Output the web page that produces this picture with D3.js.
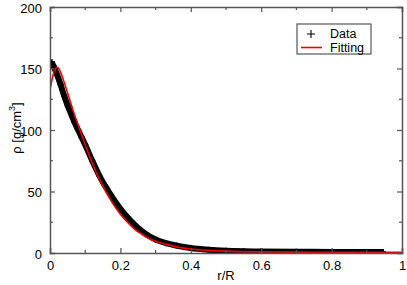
<!DOCTYPE html>
<html lang="en">
  <head>
    <meta charset="UTF-8" />
    <title>Density profile</title>
    <style>
      body {
        margin: 0;
        padding: 0;
        background-color: #fff;
        font-family: "Liberation Sans", Arial, sans-serif;
      }
      text {
        fill: #000;
      }
    </style>
  </head>
  <body>
    <svg id="chart"></svg>

    <script src="https://d3js.org/d3.v7.min.js"></script>
    <script>
      // measured density (black "+" markers)
      const dataR = [0.005, 0.01, 0.02, 0.03, 0.04, 0.05, 0.06, 0.07, 0.08, 0.09, 0.1,
        0.12, 0.14, 0.16, 0.18, 0.2, 0.22, 0.24, 0.26, 0.28, 0.3, 0.33, 0.36, 0.4,
        0.45, 0.5, 0.55, 0.6, 0.7, 0.8, 0.9, 0.946];
      const dataRho = [155, 152, 145, 137, 128, 120, 113, 106, 100, 94, 88,
        75, 63, 53, 44, 36, 29, 23, 18, 14, 11, 8, 6, 4,
        2.6, 1.8, 1.4, 1.2, 1.0, 0.9, 0.9, 0.9];

      // fitted curve (red line)
      const fitR = [0, 0.005, 0.01, 0.015, 0.02, 0.025, 0.03, 0.04, 0.05, 0.06, 0.07,
        0.08, 0.09, 0.1, 0.12, 0.14, 0.16, 0.18, 0.2, 0.22, 0.24, 0.26, 0.28, 0.3,
        0.33, 0.36, 0.4, 0.45, 0.5, 0.6, 0.7, 0.8, 1.0];
      const fitRho = [133, 140, 146, 149.5, 151, 150, 147, 139, 130, 121, 112,
        104, 96, 88, 73, 60, 49, 39.5, 31.5, 25, 19.5, 15.5, 12, 9.5,
        7, 5, 3.2, 2.1, 1.5, 0.9, 0.7, 0.6, 0.5];

      const xTicks = [0, 0.2, 0.4, 0.6, 0.8, 1];
      const yTicks = [0, 50, 100, 150, 200];
      const xMinor = [0.1, 0.3, 0.5, 0.7, 0.9];
      const yMinor = [25, 75, 125, 175];

      const width = 407;
      const height = 285;
      const margin = { top: 7, right: 5, bottom: 32, left: 50 };
      const font = "'Liberation Sans', Arial, sans-serif";

      const svg = d3.select("#chart").attr("width", width).attr("height", height);

      const x = d3.scaleLinear().domain([0, 1]).range([margin.left, width - margin.right]);
      const y = d3.scaleLinear().domain([0, 200]).range([height - margin.bottom, margin.top]);

      const axisColor = "#555";

      svg.append("clipPath").attr("id", "clip")
        .append("rect")
        .attr("x", x(0)).attr("y", y(200))
        .attr("width", x(1) - x(0)).attr("height", y(0) - y(200));

      const plot = svg.append("g").attr("clip-path", "url(#clip)");

      const data = dataR.map((r, i) => [r, dataRho[i]]);
      const fit = fitR.map((r, i) => [r, fitRho[i]]);

      const line = d3.line().x((d) => x(d[0])).y((d) => y(d[1])).curve(d3.curveMonotoneX);

      // data band (dense "+" markers)
      plot.append("path")
        .datum(data)
        .attr("d", line)
        .attr("fill", "none")
        .attr("stroke", "#000")
        .attr("stroke-width", 6);

      plot.selectAll(".plus")
        .data(data)
        .enter()
        .append("path")
        .attr("class", "plus")
        .attr("d", d3.symbol(d3.symbolCross, 20))
        .attr("transform", (d) => `translate(${x(d[0])},${y(d[1])})`)
        .attr("fill", "#000");

      // fit
      plot.append("path")
        .datum(fit)
        .attr("d", line)
        .attr("fill", "none")
        .attr("stroke", "#e00")
        .attr("stroke-width", 1.6);

      // axes: inward ticks on all four sides
      const gx = svg.append("g").attr("transform", `translate(0,${y(0)})`)
        .call(d3.axisBottom(x).tickValues(xTicks).tickSize(-5).tickPadding(8).tickFormat(d3.format("")));
      const gy = svg.append("g").attr("transform", `translate(${x(0)},0)`)
        .call(d3.axisLeft(y).tickValues(yTicks).tickSize(-5).tickPadding(8));
      const gxt = svg.append("g").attr("transform", `translate(0,${y(200)})`)
        .call(d3.axisTop(x).tickValues(xTicks).tickSize(-5).tickFormat(""));
      const gyr = svg.append("g").attr("transform", `translate(${x(1)},0)`)
        .call(d3.axisRight(y).tickValues(yTicks).tickSize(-5).tickFormat(""));

      // minor ticks
      gx.selectAll(".minor").data(xMinor).enter().append("line")
        .attr("x1", (d) => x(d)).attr("x2", (d) => x(d)).attr("y1", 0).attr("y2", -3);
      gxt.selectAll(".minor").data(xMinor).enter().append("line")
        .attr("x1", (d) => x(d)).attr("x2", (d) => x(d)).attr("y1", 0).attr("y2", 3);
      gy.selectAll(".minor").data(yMinor).enter().append("line")
        .attr("y1", (d) => y(d)).attr("y2", (d) => y(d)).attr("x1", 0).attr("x2", 3);
      gyr.selectAll(".minor").data(yMinor).enter().append("line")
        .attr("y1", (d) => y(d)).attr("y2", (d) => y(d)).attr("x1", 0).attr("x2", -3);

      [gx, gy, gxt, gyr].forEach((g) => {
        g.select(".domain").attr("stroke", axisColor).attr("stroke-width", 1.5);
        g.selectAll("line").attr("stroke", axisColor).attr("stroke-width", 1.2);
        g.selectAll("text")
          .attr("font-family", font)
          .attr("font-size", 13)
          .attr("fill", "#000");
      });
      gy.selectAll(".tick text").attr("dy", "0.42em");

      // axis titles
      svg.append("text")
        .attr("x", (x(0) + x(1)) / 2)
        .attr("y", 280)
        .attr("text-anchor", "middle")
        .attr("font-family", font)
        .attr("font-size", 13)
        .text("r/R");

      const yl = svg.append("text")
        .attr("transform", `translate(21,128) rotate(-90)`)
        .attr("text-anchor", "middle")
        .attr("font-family", font)
        .attr("font-size", 13);
      yl.append("tspan").text("ρ [g/cm");
      yl.append("tspan").attr("dy", -6).attr("font-size", 9).text("3");
      yl.append("tspan").attr("dy", 6).text("]");

      // legend
      const lg = svg.append("g");
      lg.append("rect")
        .attr("x", 297).attr("y", 24).attr("width", 74).attr("height", 30)
        .attr("fill", "#fff").attr("stroke", axisColor).attr("stroke-width", 1.2);
      lg.append("path")
        .attr("d", "M307,34H315M311,30V38")
        .attr("stroke", "#000").attr("stroke-width", 1.1);
      lg.append("text").attr("x", 330).attr("y", 38).attr("font-family", font).attr("font-size", 12.5).text("Data");
      lg.append("line")
        .attr("x1", 301).attr("x2", 322).attr("y1", 47.5).attr("y2", 47.5)
        .attr("stroke", "#e00").attr("stroke-width", 1.6);
      lg.append("text").attr("x", 330).attr("y", 51.5).attr("font-family", font).attr("font-size", 12.5).text("Fitting");
    </script>
  </body>
</html>
